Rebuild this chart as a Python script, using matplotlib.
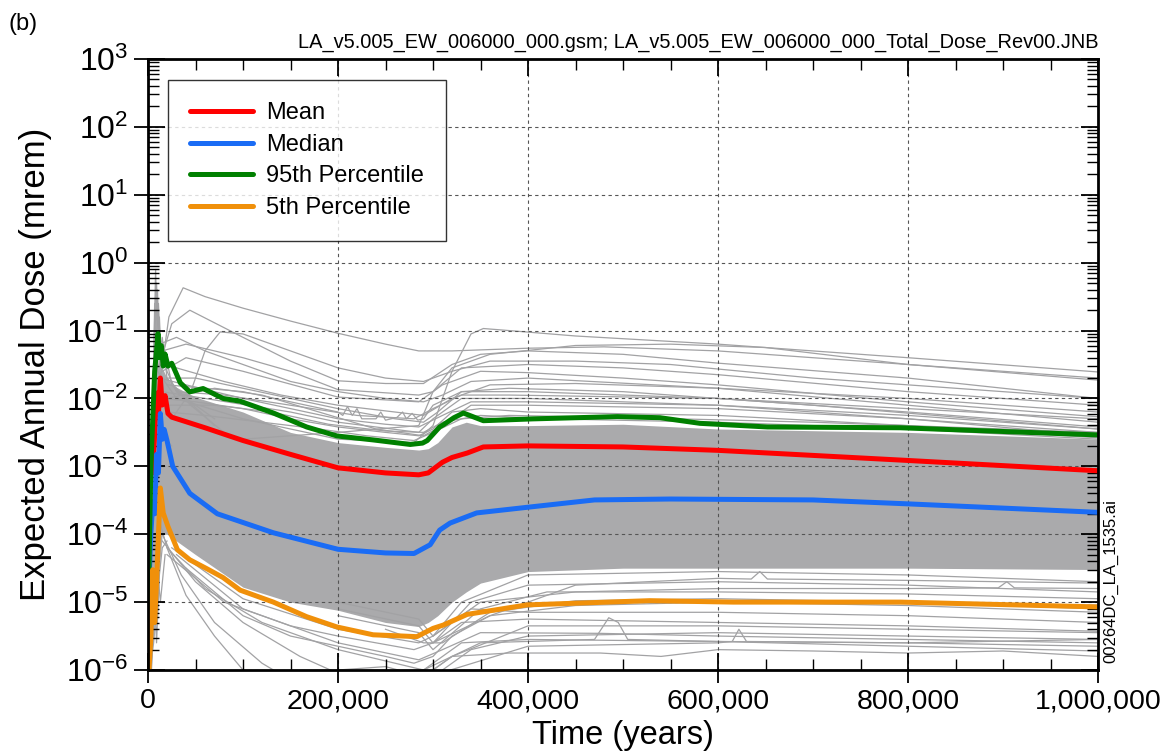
import matplotlib
matplotlib.use("Agg")
import matplotlib.pyplot as plt
import numpy as np
from matplotlib.ticker import LogLocator, FuncFormatter, MultipleLocator, NullFormatter

# ---------------- data (time in thousands of years) ----------------
mean_t = [0, 1, 3, 5, 7, 9, 11, 13, 15, 18, 21, 25, 60, 100, 150, 200, 250, 285, 295,
          310, 320, 336, 353, 400, 500, 600, 800, 1000]
mean_v = [1e-5, 3e-4, 1.2e-3, 8e-4, 3e-3, 1.2e-2, 6e-3, 2.0e-2, 8e-3, 1.1e-2, 6e-3, 5.3e-3,
          3.7e-3, 2.4e-3, 1.5e-3, 9.5e-4, 8e-4, 7.5e-4, 8e-4, 1.15e-3, 1.35e-3, 1.57e-3,
          1.93e-3, 2.0e-3, 1.93e-3, 1.72e-3, 1.22e-3, 8.6e-4]

median_t = [0, 1, 3, 5, 7, 9, 11, 13, 15, 17, 20, 26, 44, 73, 132, 200, 250, 280, 297,
            307, 318, 346, 400, 470, 550, 700, 800, 1000]
median_v = [1e-6, 2e-5, 1e-4, 3e-4, 2e-4, 1.5e-3, 8e-4, 6e-3, 2.5e-3, 3.5e-3, 2.4e-3, 1e-3,
            4e-4, 2e-4, 1.05e-4, 6e-5, 5.3e-5, 5.2e-5, 7e-5, 1.15e-4, 1.46e-4, 2.06e-4,
            2.5e-4, 3.2e-4, 3.3e-4, 3.2e-4, 2.8e-4, 2.1e-4]

p95_t = [0, 1, 3, 5, 7, 9, 10.5, 12, 14, 16, 18, 21, 25, 34, 44, 58, 79, 97, 132, 167,
         199, 237, 276, 289, 294, 307, 311, 322, 332, 353, 405, 494, 539, 581, 652, 792, 1000]
p95_v = [1e-6, 3e-5, 1e-3, 5e-3, 2.5e-2, 5e-2, 9e-2, 4e-2, 6e-2, 3e-2, 4.5e-2, 3e-2, 3.3e-2,
         1.7e-2, 1.25e-2, 1.4e-2, 1.0e-2, 9.1e-3, 6.1e-3, 3.8e-3, 2.8e-3, 2.45e-3, 2.1e-3,
         2.2e-3, 2.4e-3, 3.8e-3, 4.1e-3, 5.2e-3, 6.1e-3, 4.7e-3, 5.0e-3, 5.4e-3, 5.2e-3,
         4.3e-3, 3.8e-3, 3.7e-3, 2.9e-3]

p05_t = [0, 1, 3, 5, 7, 9, 11, 13, 16, 21, 31, 44, 62, 79, 97, 132, 167, 199, 237, 283,
         300, 311, 336, 399, 528, 616, 792, 1000]
p05_v = [1e-6, 1e-6, 3e-6, 3e-5, 5e-6, 2e-5, 1e-4, 4.8e-4, 2.06e-4, 1.3e-4, 5.9e-5, 4.2e-5,
         3.1e-5, 2.3e-5, 1.5e-5, 1.0e-5, 6.1e-6, 4.3e-6, 3.3e-6, 3.1e-6, 4.1e-6, 4.6e-6,
         6.6e-6, 9.1e-6, 1.05e-5, 1.0e-5, 1.0e-5, 8.5e-6]

# dense core of the realization spaghetti (log10 dose)
band_t = [2, 4, 6, 8, 10, 12, 15, 20, 25, 50, 100, 150, 200, 250, 285, 295, 305, 320,
          335, 350, 400, 500, 600, 800, 1000]
band_hi = [-3.5, -2.5, -1.8, -1.2, -1.5, -1.3, -1.55, -1.7, -1.8, -1.98, -2.2, -2.5, -2.65,
           -2.72, -2.76, -2.74, -2.65, -2.42, -2.35, -2.4, -2.4, -2.38, -2.45, -2.5, -2.6]
band_lo = [-6.0, -5.8, -5.6, -5.3, -5.0, -4.5, -4.0, -4.0, -4.05, -4.3, -4.78, -5.0, -5.12,
           -5.3, -5.36, -5.3, -5.2, -5.0, -4.85, -4.72, -4.55, -4.5, -4.5, -4.5, -4.52]

# individual realizations (time kyr, log10 dose)
gray_upper = [
    ([12, 22, 37, 60, 100, 150, 200, 250, 285, 320, 400, 480, 600, 800, 1000],
     [-1.8, -0.8, -0.37, -0.5, -0.67, -0.86, -1.04, -1.2, -1.3, -1.3, -1.26, -1.24, -1.3, -1.5, -1.73]),
    ([10, 30, 100, 200, 280, 300, 320, 340, 353, 380, 450, 500, 600, 800, 1000],
     [-1.6, -2.0, -2.3, -2.6, -2.65, -2.4, -1.6, -1.05, -0.97, -1.0, -1.08, -1.12, -1.2, -1.4, -1.61]),
    ([25, 45, 60, 76, 100, 150, 200, 250, 290, 320, 360, 450, 550, 700, 1000],
     [-2.3, -1.9, -1.3, -1.02, -1.05, -1.3, -1.55, -1.7, -1.75, -1.6, -1.45, -1.45, -1.5, -1.7, -2.0]),
    ([12, 25, 44, 100, 150, 200, 250, 290, 320, 350, 400, 500, 600, 800, 1000],
     [-1.5, -0.9, -0.7, -1.1, -1.45, -1.74, -1.78, -1.78, -1.5, -1.35, -1.3, -1.35, -1.48, -1.7, -2.0]),
    ([15, 40, 100, 150, 200, 285, 300, 330, 400, 500, 600, 800, 1000],
     [-1.3, -1.2, -1.4, -1.6, -1.87, -1.95, -1.9, -1.55, -1.5, -1.55, -1.65, -1.9, -2.1]),
    ([15, 40, 100, 200, 285, 310, 350, 400, 500, 600, 800, 1000],
     [-1.6, -1.4, -1.6, -1.98, -2.05, -1.8, -1.6, -1.62, -1.7, -1.8, -2.05, -2.27]),
    ([20, 100, 200, 205, 210, 215, 220, 225, 240, 245, 250, 262, 268, 272, 278, 284, 290, 300,
      330, 400, 600, 800, 1000],
     [-1.8, -1.9, -2.2, -2.25, -2.12, -2.25, -2.15, -2.3, -2.3, -2.2, -2.32, -2.28, -2.2, -2.3,
      -2.22, -2.32, -2.3, -2.1, -1.9, -1.9, -2.0, -2.2, -2.42]),
    ([15, 60, 150, 200, 285, 300, 330, 400, 600, 800, 1000],
     [-1.9, -2.0, -2.2, -2.35, -2.5, -2.3, -2.0, -2.0, -2.1, -2.3, -2.5]),
    ([100, 200, 285, 300, 320, 360, 450, 550, 650, 800, 1000],
     [-2.6, -2.5, -2.4, -1.9, -1.55, -1.35, -1.22, -1.2, -1.25, -1.5, -1.7]),
    ([12, 30, 60, 100, 150, 200, 250, 290, 310, 340, 400, 600, 800, 1000],
     [-1.2, -1.1, -1.3, -1.5, -1.75, -1.9, -2.0, -2.05, -1.95, -1.75, -1.7, -1.85, -2.1, -2.35]),
    ([20, 50, 100, 150, 200, 260, 290, 305, 330, 380, 500, 700, 1000],
     [-1.7, -1.7, -1.85, -2.0, -2.15, -2.3, -2.35, -2.2, -1.9, -1.85, -1.9, -2.1, -2.45]),
    ([20, 70, 120, 180, 240, 290, 310, 340, 400, 600, 800, 1000],
     [-2.0, -1.85, -1.95, -2.2, -2.45, -2.55, -2.4, -2.1, -2.1, -2.15, -2.3, -2.55]),
    ([15, 50, 100, 150, 200, 250, 285, 300, 320, 350, 400, 600, 800, 1000],
     [-2.0, -2.05, -2.15, -2.3, -2.42, -2.5, -2.55, -2.45, -2.2, -2.15, -2.2, -2.25, -2.4, -2.58]),
    ([12, 40, 100, 150, 200, 250, 285, 310, 340, 400, 600, 800, 1000],
     [-1.7, -1.8, -2.0, -2.15, -2.3, -2.38, -2.42, -2.25, -2.05, -2.05, -2.1, -2.25, -2.45]),
    ([20, 60, 120, 180, 230, 280, 300, 330, 380, 500, 700, 1000],
     [-2.2, -2.25, -2.35, -2.45, -2.55, -2.62, -2.5, -2.3, -2.25, -2.28, -2.35, -2.5]),
    ([10, 30, 80, 140, 200, 260, 290, 320, 360, 450, 600, 800, 1000],
     [-1.4, -1.55, -1.75, -1.95, -2.1, -2.2, -2.25, -2.0, -1.8, -1.78, -1.85, -2.0, -2.2]),
    ([30, 80, 150, 220, 280, 300, 330, 380, 600, 1000],
     [-1.9, -1.95, -2.1, -2.25, -2.3, -2.15, -1.95, -1.95, -2.0, -2.3]),
    ([20, 70, 130, 190, 250, 290, 310, 350, 420, 600, 800, 1000],
     [-2.1, -2.1, -2.2, -2.38, -2.48, -2.5, -2.35, -2.25, -2.3, -2.35, -2.45, -2.6]),
]

gray_early = [
    ([0, 3, 6, 8, 9.5, 11, 13, 16, 20, 30, 50, 70],
     [-7, -4, -1.5, -0.1, -1.0, -0.6, -1.3, -1.2, -1.6, -1.9, -2.1, -2.3]),
    ([0, 2, 5, 7, 8.5, 10, 12, 15, 20, 40, 70],
     [-7, -5, -2.5, -0.6, -1.5, -0.4, -1.4, -1.1, -1.7, -2.0, -2.4]),
    ([0, 4, 7, 9, 10.5, 12, 14, 18, 25, 45, 80],
     [-7, -3.5, -1.2, -0.3, -1.0, -0.8, -1.5, -1.3, -1.8, -2.1, -2.5]),
    ([0, 3, 6, 9, 11, 14, 18, 25],
     [-7, -5, -3, -1.8, -2.4, -2.2, -2.6, -2.7]),
    ([0, 4, 7, 9, 12, 15, 20],
     [-7, -5.8, -4.9, -5.6, -4.6, -4.2, -4.1]),
    ([0, 3, 6, 10, 13, 18],
     [-7, -6.2, -5.3, -4.5, -5.0, -4.3]),
]

gray_lower = [
    ([12, 20, 40, 70, 100, 115], [-3.8, -4.2, -4.9, -5.5, -6.0, -6.3]),
    ([15, 35, 70, 120, 150, 165], [-4.0, -4.6, -5.3, -5.9, -6.15, -6.3]),
    ([15, 50, 100, 160, 200, 230], [-4.1, -4.7, -5.3, -5.8, -6.05, -6.3]),
    ([20, 60, 120, 200, 260, 290, 300, 330, 400, 600, 800, 1000],
     [-4.2, -4.8, -5.3, -5.7, -5.9, -6.0, -5.9, -5.6, -5.55, -5.58, -5.65, -5.72]),
    ([20, 80, 150, 200, 280, 300, 330, 400, 600, 800, 1000],
     [-4.3, -5.0, -5.35, -5.5, -5.7, -5.6, -5.3, -5.25, -5.3, -5.35, -5.43]),
    ([25, 100, 200, 285, 300, 340, 400, 600, 800, 1000],
     [-4.2, -4.95, -5.4, -5.6, -5.5, -5.1, -5.15, -5.15, -5.2, -5.3]),
    ([30, 100, 200, 285, 310, 350, 476, 600, 800, 1000],
     [-4.3, -5.1, -5.6, -5.85, -5.7, -5.45, -5.46, -5.5, -5.55, -5.6]),
    ([270, 300, 320, 380, 476, 540, 600, 700, 800, 900, 1000],
     [-6.3, -6.0, -5.8, -5.75, -5.75, -5.8, -5.7, -5.72, -5.75, -5.72, -5.8]),
    ([290, 350, 470, 485, 495, 505, 600, 800, 1000],
     [-6.0, -5.6, -5.55, -5.23, -5.3, -5.55, -5.58, -5.6, -5.65]),
    ([295, 400, 600, 615, 622, 630, 800, 1000],
     [-6.1, -5.65, -5.6, -5.58, -5.4, -5.58, -5.6, -5.55]),
    ([250, 290, 310, 340, 400, 600, 800, 1000],
     [-6.5, -6.4, -6.0, -5.7, -5.5, -5.45, -5.5, -5.55]),
    ([40, 100, 150, 200, 250, 280, 300, 320, 360, 450, 600, 800, 1000],
     [-4.5, -5.2, -5.5, -5.65, -5.8, -5.9, -5.8, -5.5, -5.2, -5.05, -5.0, -5.05, -5.15]),
    ([150, 200, 250, 290, 320, 400, 600, 800, 1000],
     [-6.3, -6.0, -5.95, -6.1, -5.8, -5.35, -5.35, -5.4, -5.45]),
    ([200, 285, 300, 330, 400, 600, 800, 1000], [-5.0, -5.25, -5.5, -5.0, -4.6, -4.55, -4.6, -4.7]),
    ([200, 285, 300, 340, 400, 600, 800, 1000], [-5.1, -5.35, -5.6, -5.0, -4.75, -4.7, -4.75, -4.85]),
    ([200, 285, 300, 350, 420, 600, 800, 1000], [-5.2, -5.45, -5.7, -5.1, -4.85, -4.85, -4.88, -4.95]),
    ([250, 290, 310, 360, 450, 600, 800, 1000], [-5.4, -5.6, -5.6, -5.15, -4.98, -4.95, -5.0, -5.1]),
    ([300, 350, 450, 600, 800, 895, 904, 912, 1000],
     [-5.5, -5.0, -4.85, -4.8, -4.8, -4.79, -4.7, -4.79, -4.8]),
    ([300, 360, 450, 600, 635, 644, 652, 800, 1000],
     [-5.6, -5.2, -4.75, -4.65, -4.66, -4.55, -4.66, -4.68, -4.72]),
]

legend_labels = ["Mean", "Median", "95th Percentile", "5th Percentile"]
x_ticks = [0, 200000, 400000, 600000, 800000, 1000000]

title_text = "LA_v5.005_EW_006000_000.gsm; LA_v5.005_EW_006000_000_Total_Dose_Rev00.JNB"
panel_text = "(b)"
side_text = "00264DC_LA_1535.ai"
xlabel_text = "Time (years)"
ylabel_text = "Expected Annual Dose (mrem)"

# ---------------- styling ----------------
plt.rcParams["font.family"] = ["Liberation Sans", "DejaVu Sans"]
plt.rcParams["mathtext.default"] = "regular"

W, H = 1165, 755
fig = plt.figure(figsize=(W / 100, H / 100), dpi=100)
L, R, T, B = 148, 1098, 59, 670
ax = fig.add_axes([L / W, 1 - B / H, (R - L) / W, (B - T) / H])

FILL = "#aaaaac"
GRAY = "#a2a2a4"
kyr = 1000.0

bt = np.array(band_t) * kyr
ax.fill_between(bt, 10 ** np.array(band_lo), 10 ** np.array(band_hi), color=FILL,
                linewidth=0, zorder=1)
for t, v in gray_upper + gray_early + gray_lower:
    ax.plot(np.array(t) * kyr, 10 ** np.array(v), color=GRAY, lw=0.9, zorder=1.5)

lw = 3.6
ax.plot(np.array(mean_t) * kyr, mean_v, color="#ff0000", lw=lw, zorder=3, label=legend_labels[0])
ax.plot(np.array(median_t) * kyr, median_v, color="#1a6cf5", lw=lw, zorder=3, label=legend_labels[1])
ax.plot(np.array(p95_t) * kyr, p95_v, color="#008000", lw=lw, zorder=3, label=legend_labels[2])
ax.plot(np.array(p05_t) * kyr, p05_v, color="#f0900a", lw=lw, zorder=3, label=legend_labels[3])

ax.set_yscale("log")
ax.set_xlim(0, 1e6)
ax.set_ylim(1e-6, 1e3)

ax.xaxis.set_major_locator(matplotlib.ticker.FixedLocator(x_ticks))
ax.xaxis.set_minor_locator(MultipleLocator(50000))
ax.xaxis.set_major_formatter(FuncFormatter(lambda x, p: f"{x:,.0f}"))
ax.yaxis.set_major_locator(LogLocator(base=10, numticks=20))
ax.yaxis.set_minor_locator(LogLocator(base=10, subs=np.arange(2, 10), numticks=20))
ax.yaxis.set_minor_formatter(NullFormatter())
ax.yaxis.set_major_formatter(FuncFormatter(lambda y, p: r"$10^{%d}$" % int(round(np.log10(y)))))

ax.tick_params(which="major", direction="in", length=12, width=1.3, top=True, right=True)
ax.tick_params(which="minor", direction="in", length=8, width=1.0, top=True, right=True)
ax.tick_params(axis="x", which="major", pad=13, labelsize=20.5)
ax.tick_params(axis="y", which="major", pad=14, labelsize=23)

# outward stubs for major ticks on bottom and left
secx = ax.secondary_xaxis("bottom")
secx.set_xticks(x_ticks)
secx.tick_params(direction="out", length=9, width=1.3, labelbottom=False)
secx.xaxis.set_minor_locator(matplotlib.ticker.NullLocator())
secx.spines["bottom"].set_visible(False)
secy = ax.secondary_yaxis("left")
secy.yaxis.set_major_locator(LogLocator(base=10, numticks=20))
secy.yaxis.set_minor_locator(matplotlib.ticker.NullLocator())
secy.tick_params(direction="out", length=10, width=1.3, labelleft=False)
secy.spines["left"].set_visible(False)

for s in ax.spines.values():
    s.set_linewidth(2.0)
    s.set_zorder(4)

ax.grid(True, which="major", linestyle=(0, (3, 3)), color="#555555", linewidth=0.8, zorder=2.5)
ax.set_axisbelow(False)

ax.set_xlabel(xlabel_text, fontsize=23.5, labelpad=4)
ax.set_ylabel(ylabel_text, fontsize=25, labelpad=10)

leg = ax.legend(loc="upper left", bbox_to_anchor=(168 / W, 1 - 80 / H),
                bbox_transform=fig.transFigure, fontsize=17, frameon=True, fancybox=False,
                edgecolor="black", handlelength=2.65, handletextpad=0.55, borderpad=0.95,
                labelspacing=0.4, borderaxespad=0)
leg.get_frame().set_linewidth(1.0)
leg.set_zorder(5)
for h in leg.get_lines():
    h.set_linewidth(3.6)
    h.set_solid_capstyle("round")

fig.text(1098 / W, 1 - 48 / H, title_text, ha="right", va="baseline", fontsize=14.4)
fig.text(8 / W, 1 - 30 / H, panel_text, ha="left", va="baseline", fontsize=17)
fig.text(1111 / W, 1 - 581 / H, side_text, ha="center", va="center", rotation=90, fontsize=12)

fig.savefig("out.png", dpi=100)
